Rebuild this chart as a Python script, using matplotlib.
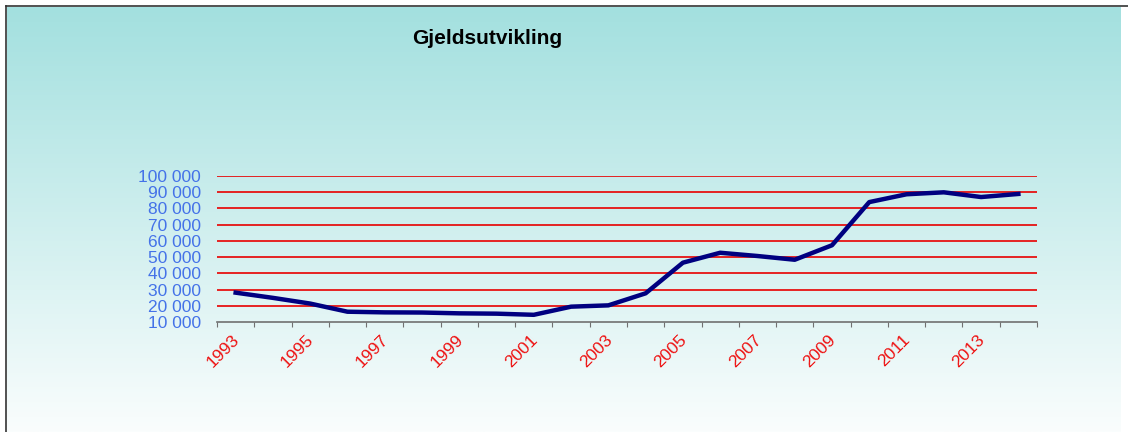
import matplotlib.pyplot as plt
import matplotlib.transforms as mtransforms
import numpy as np
from matplotlib.lines import Line2D

# Data
years = list(range(1993, 2015))
debt = [28200, 25000, 21500, 16500, 16100, 16000, 15500, 15300, 14600, 19600,
        20400, 27800, 46600, 52700, 50700, 48400, 57300, 83800, 88600, 89800,
        86900, 88800]
y_ticks = [10000, 20000, 30000, 40000, 50000, 60000, 70000, 80000, 90000, 100000]
title = "Gjeldsutvikling"

plt.rcParams['font.family'] = ['Liberation Sans', 'DejaVu Sans']

fig = plt.figure(figsize=(11.28, 4.32), dpi=100)

# Gradient background panel (teal at top -> white at bottom)
bg = fig.add_axes([7 / 1128, 0, 1114 / 1128, 425 / 432])
bg.set_axis_off()
top = np.array([163, 224, 223]) / 255
bottom = np.array([250, 253, 253]) / 255
t = np.linspace(0, 1, 256)[:, None]
grad = (1 - t) * top + t * bottom
bg.imshow(grad[:, None, :].repeat(2, axis=1), aspect='auto', extent=[0, 1, 0, 1])
bg.set_xlim(0, 1)
bg.set_ylim(0, 1)

# Frame lines top and left
fig.add_artist(Line2D([6 / 1128, 1], [1 - 6 / 432, 1 - 6 / 432], color='#333333', lw=1.2,
                      transform=fig.transFigure))
fig.add_artist(Line2D([6 / 1128, 6 / 1128], [0, 1 - 6 / 432], color='#333333', lw=1.2,
                      transform=fig.transFigure))

fig.text(487 / 1128, 1 - 38 / 432, title, ha='center', va='center',
         fontsize=15, fontweight='bold', color='black')

ax = fig.add_axes([217 / 1128, 109.7 / 432, 820 / 1128, 146.6 / 432])
ax.patch.set_alpha(0)

x = np.arange(len(years))
for v in y_ticks[1:]:
    ax.axhline(v, color='#e80000', lw=1.2, zorder=1)
ax.plot(x, debt, color='#000080', lw=3.2, solid_joinstyle='round', zorder=3)

ax.set_xlim(-0.5, len(years) - 0.5)
ax.set_ylim(10000, 100000)

ax.set_yticks(y_ticks)
ax.set_yticklabels([f"{v:,}".replace(",", " ") for v in y_ticks],
                   color='#4472e8', fontsize=12.5)
ax.tick_params(axis='y', length=0, pad=11.5)

# category boundaries get the tick marks, odd years get labels
ax.set_xticks(np.arange(len(years) + 1) - 0.5)
ax.set_xticklabels([])
ax.tick_params(axis='x', which='major', length=3.6, color='#707070', direction='out')
ax.set_xticks(x[::2], minor=True)
ax.set_xticklabels([str(y) for y in years[::2]], minor=True, rotation=45,
                   ha='right', rotation_mode='anchor', color='#ee1111', fontsize=12.5)
ax.tick_params(axis='x', which='minor', length=0, pad=7)
shift = mtransforms.ScaledTranslation(-4 / 100, 0, fig.dpi_scale_trans)
for lbl in ax.get_xticklabels(minor=True):
    lbl.set_transform(lbl.get_transform() + shift)

for s in ['top', 'right', 'left']:
    ax.spines[s].set_visible(False)
ax.spines['bottom'].set_color('#707070')
ax.spines['bottom'].set_linewidth(1.2)

plt.savefig('out.png', dpi=100)
plt.close()
